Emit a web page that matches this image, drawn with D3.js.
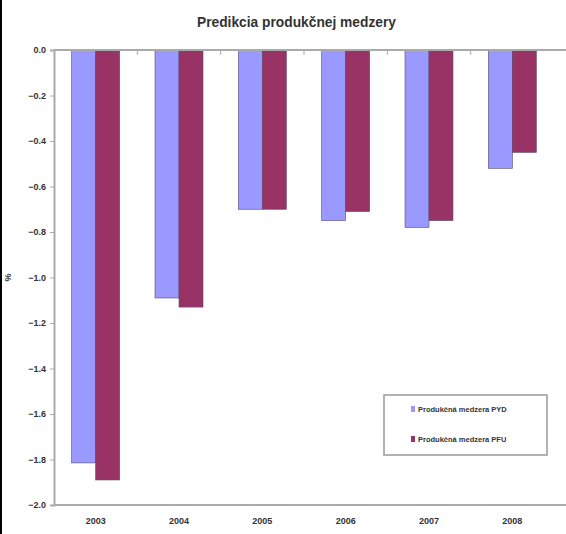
<!DOCTYPE html>
<html>
<head>
<meta charset="utf-8">
<script src="https://cdn.jsdelivr.net/npm/d3@7"></script>
<style>
  body { margin: 0; background: #fff; }
  text { font-family: "Liberation Sans Narrow", "Arial Narrow", "Liberation Sans", sans-serif; }
</style>
</head>
<body>
<script>
// chart data
var years = ["2003", "2004", "2005", "2006", "2007", "2008"];
var seriesNames = ["Produkčná medzera PYD", "Produkčná medzera PFU"];
var pyd = [-1.815, -1.09, -0.70, -0.75, -0.78, -0.52];
var pfu = [-1.89, -1.13, -0.70, -0.71, -0.75, -0.45];
var yTicks = [0, -0.2, -0.4, -0.6, -0.8, -1.0, -1.2, -1.4, -1.6, -1.8, -2.0];
var colors = ["#9999ff", "#993366"];

var W = 566, H = 534;
var plot = {left: 54, right: 554, top: 50, bottom: 505};

var svg = d3.select("body").append("svg")
  .attr("width", W)
  .attr("height", H);

// black frame edge on the left
svg.append("line")
  .attr("x1", 1).attr("x2", 1).attr("y1", 0).attr("y2", H)
  .attr("stroke", "#000").attr("stroke-width", 2);

var x = d3.scaleBand().domain(years).range([plot.left, plot.right]);
var xs = d3.scaleBand().domain(seriesNames).range([0, 48]);
var y = d3.scaleLinear().domain([0, -2.0]).range([plot.top, plot.bottom]);

// title (condensed to look like the narrow original)
svg.append("text")
  .attr("x", 197).attr("y", 27)
  .attr("textLength", 199).attr("lengthAdjust", "spacingAndGlyphs")
  .attr("font-size", "15px").attr("font-weight", "bold")
  .attr("fill", "#333")
  .text("Predikcia produkčnej medzery");

// y axis
var yAxis = svg.append("g")
  .attr("transform", "translate(" + plot.left + ",0)")
  .call(d3.axisLeft(y).tickValues(yTicks).tickSize(4).tickPadding(4)
    .tickFormat(d3.format(".1f")));
yAxis.select(".domain").attr("stroke", "#aaa").attr("stroke-width", 2);
yAxis.selectAll(".tick line").attr("stroke", "#aaa");
yAxis.selectAll("text")
  .attr("font-size", "9px").attr("font-weight", "bold").attr("fill", "#333");

// y axis title
svg.append("text")
  .attr("transform", "translate(11," + ((plot.top + plot.bottom) / 2) + ") rotate(-90)")
  .attr("text-anchor", "middle")
  .attr("font-size", "9px").attr("font-weight", "bold").attr("fill", "#333")
  .text("%");

// bottom plot line
svg.append("line")
  .attr("x1", plot.left).attr("x2", W)
  .attr("y1", plot.bottom).attr("y2", plot.bottom)
  .attr("stroke", "#aaa").attr("stroke-width", 2);

// bars
var groups = svg.selectAll(".year")
  .data(years)
  .enter().append("g")
  .attr("transform", function(d) { return "translate(" + (x(d) + x.bandwidth() / 2 - 24) + ",0)"; });

groups.selectAll("rect")
  .data(function(d, i) {
    return [{s: seriesNames[0], v: pyd[i], c: colors[0]}, {s: seriesNames[1], v: pfu[i], c: colors[1]}];
  })
  .enter().append("rect")
  .attr("x", function(d) { return xs(d.s); })
  .attr("y", y(0))
  .attr("width", xs.bandwidth())
  .attr("height", function(d) { return y(d.v) - y(0); })
  .attr("fill", function(d) { return d.c; })
  .attr("stroke", "#5a4a6a").attr("stroke-width", 0.6);

// category axis at zero with ticks between categories
var zero = svg.append("g");
zero.append("line")
  .attr("x1", plot.left).attr("x2", W)
  .attr("y1", y(0)).attr("y2", y(0))
  .attr("stroke", "#aaa").attr("stroke-width", 2);
zero.selectAll(".sep")
  .data(years.slice(1))
  .enter().append("line")
  .attr("x1", function(d) { return x(d); }).attr("x2", function(d) { return x(d); })
  .attr("y1", y(0)).attr("y2", y(0) + 5)
  .attr("stroke", "#aaa");

// category labels along the bottom
svg.selectAll(".xlab")
  .data(years)
  .enter().append("text")
  .attr("x", function(d) { return x(d) + x.bandwidth() / 2; })
  .attr("y", 524)
  .attr("text-anchor", "middle")
  .attr("font-size", "9px").attr("font-weight", "bold").attr("fill", "#333")
  .text(function(d) { return d; });

// legend
var legend = svg.append("g").attr("transform", "translate(384,395)");
legend.append("rect")
  .attr("width", 163).attr("height", 60)
  .attr("fill", "#fff").attr("stroke", "#999").attr("stroke-width", 1.5);
seriesNames.forEach(function(name, i) {
  var row = legend.append("g").attr("transform", "translate(27," + (15 + i * 30) + ")");
  row.append("rect")
    .attr("x", 0).attr("y", -4).attr("width", 4).attr("height", 6)
    .attr("fill", colors[i]);
  row.append("text")
    .attr("x", 7).attr("y", 2)
    .attr("font-size", "7.5px").attr("font-weight", "bold").attr("fill", "#333")
    .text(name);
});
</script>
</body>
</html>
